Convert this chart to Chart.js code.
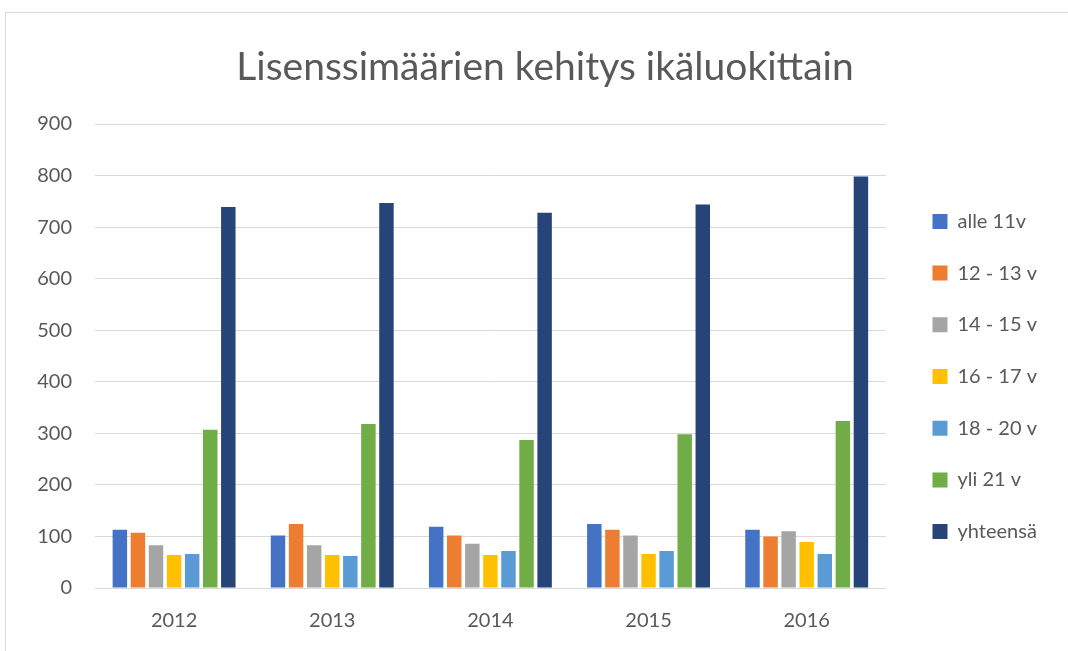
<!DOCTYPE html>
<html>
<head>
<meta charset="utf-8">
<script src="https://cdn.jsdelivr.net/npm/chart.js@4"></script>
<style>
  html, body { margin: 0; padding: 0; background: #fff; overflow: hidden; }
  #frame { position: absolute; left: 5px; top: 12px; width: 1080px; height: 660px;
           border-left: 1px solid #d9d9d9; border-top: 1px solid #d9d9d9; }
  #wrap { position: absolute; left: 0; top: 0; width: 1068px; height: 651px; }
</style>
</head>
<body>
<div id="frame"></div>
<div id="wrap"><canvas id="bars"></canvas></div>
<script>
var years = ['2012', '2013', '2014', '2015', '2016'];
var seriesNames = ['alle 11v', '12 - 13 v', '14 - 15 v', '16 - 17 v', '18 - 20 v', 'yli 21 v', 'yhteensä'];
var alle11 = [113, 102, 119, 124, 113];
var v12_13 = [107, 124, 102, 113, 100];
var v14_15 = [83, 83, 86, 102, 110];
var v16_17 = [64, 64, 64, 66, 89];
var v18_20 = [66, 62, 72, 72, 66];
var yli21 = [307, 318, 287, 298, 324];
var yhteensa = [739, 747, 728, 744, 798];
var colors = ['#4472C4', '#ED7D31', '#A5A5A5', '#FFC000', '#5B9BD5', '#70AD47', '#264478'];

var allSeries = [alle11, v12_13, v14_15, v16_17, v18_20, yli21, yhteensa];
var grey = '#595959';
var font = 'Lato, "Open Sans", sans-serif';

// nudge legend and title so they sit where the Excel ones do
var boxShift = {
  id: 'boxShift',
  afterLayout: function (chart) {
    var lg = chart.legend;
    if (lg) {
      lg.left += 15; lg.right += 15;
      lg.top += 51; lg.bottom += 51;
    }
    var tb = chart.titleBlock;
    if (tb) { tb.left += 29; tb.right += 29; }
  }
};

var ctx = document.getElementById('bars').getContext('2d');
var myChart = new Chart(ctx, {
  type: 'bar',
  data: {
    labels: years,
    datasets: allSeries.map(function (vals, i) {
      return {
        label: seriesNames[i],
        data: vals,
        backgroundColor: colors[i],
        borderWidth: 0,
        categoryPercentage: 0.8,
        barPercentage: 0.8
      };
    })
  },
  options: {
    responsive: true,
    maintainAspectRatio: false,
    animation: false,
    layout: { padding: { left: 0, right: 36, top: 0, bottom: 0 } },
    plugins: {
      title: {
        display: true,
        text: 'Lisenssimäärien kehitys ikäluokittain',
        color: grey,
        font: { family: font, size: 39, weight: 'normal' },
        padding: { top: 44, bottom: 33.2 }
      },
      legend: {
        position: 'right',
        labels: {
          color: grey,
          font: { family: font, size: 20 },
          boxWidth: 15,
          boxHeight: 15,
          padding: 31.7
        }
      },
      tooltip: { enabled: false }
    },
    scales: {
      x: {
        grid: { display: false, drawTicks: false },
        border: { display: true, color: '#d9d9d9', width: 1 },
        ticks: { color: grey, font: { family: font, size: 20 }, padding: 21 },
        afterFit: function (scale) { scale.height = 63; }
      },
      y: {
        min: 0,
        max: 900,
        ticks: { stepSize: 100, color: grey, font: { family: font, size: 20 }, padding: 23 },
        grid: { color: '#d9d9d9', drawTicks: false },
        border: { display: false },
        afterFit: function (scale) { scale.width = 95; }
      }
    }
  },
  plugins: [boxShift]
});
</script>
</body>
</html>
